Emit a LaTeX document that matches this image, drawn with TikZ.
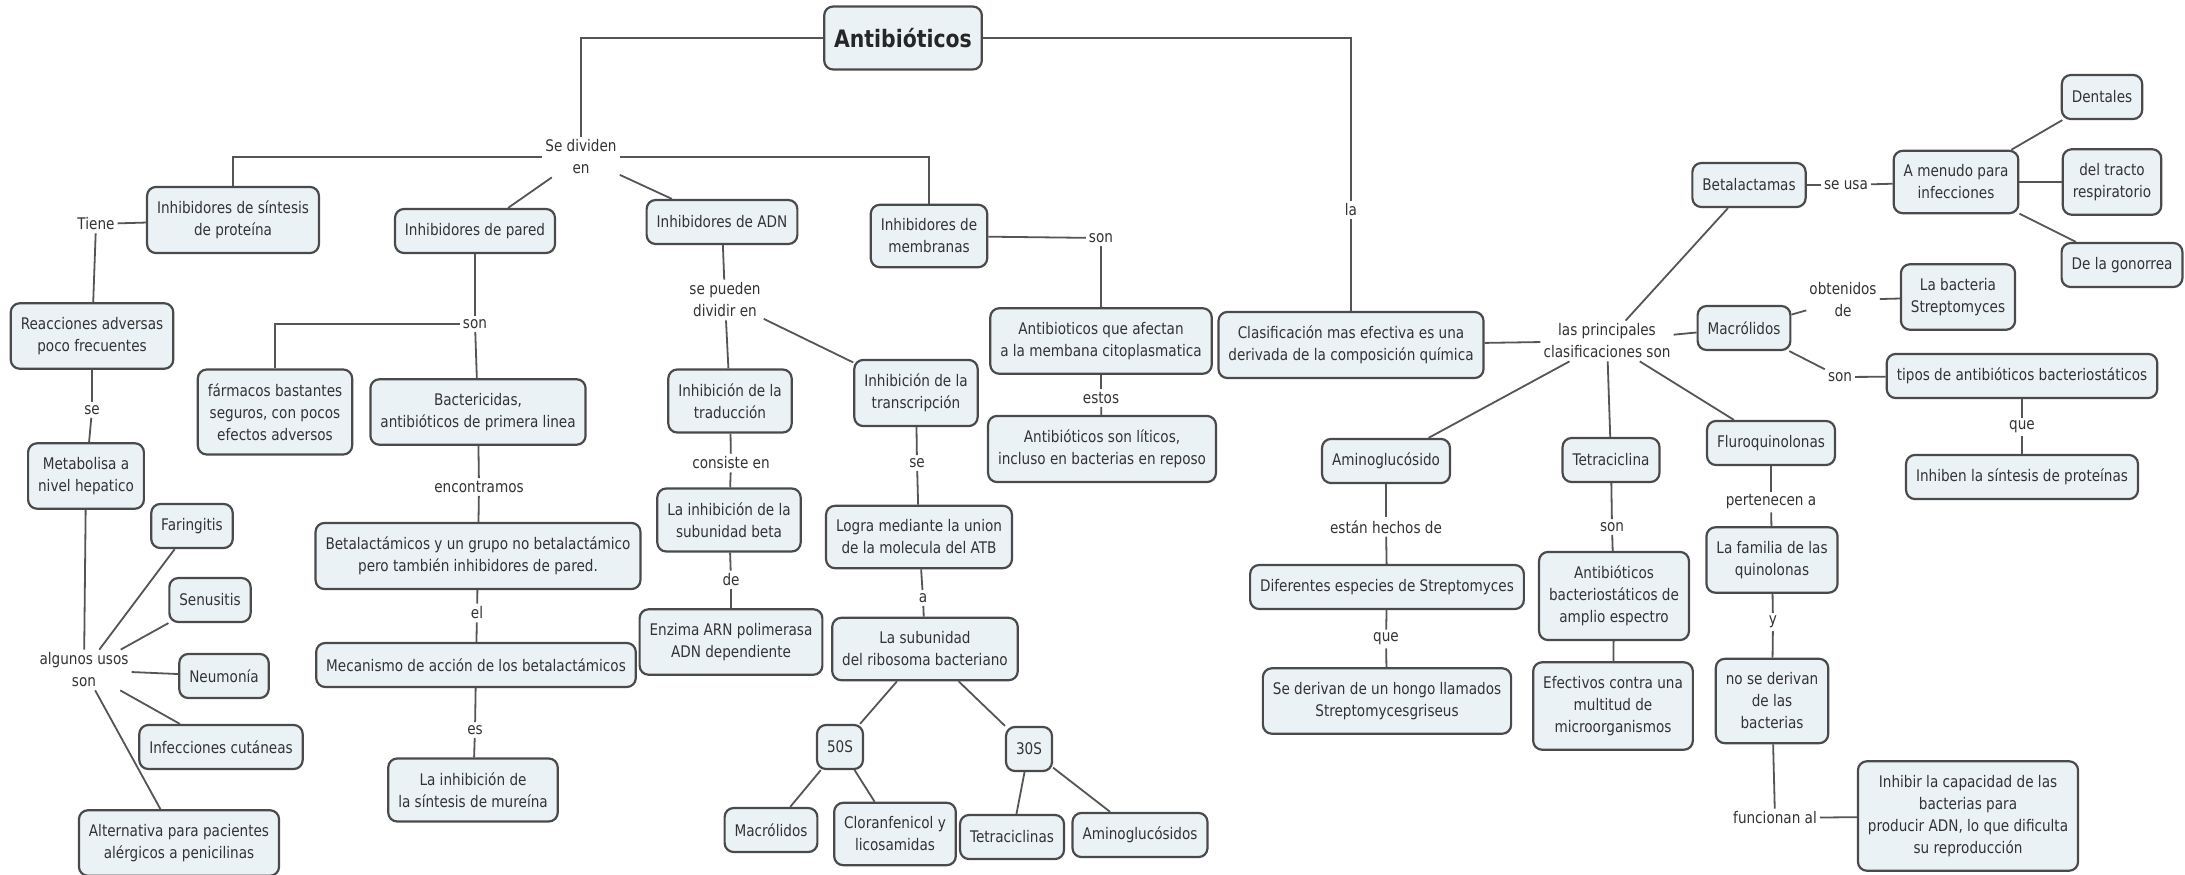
\documentclass[tikz,border=0pt]{standalone}
\usepackage{fontspec}
\setmainfont{DejaVu Sans}[FakeStretch=0.85]
\usetikzlibrary{positioning}
\definecolor{boxfill}{HTML}{EBF2F6}
\definecolor{boxline}{HTML}{4A4A4A}
\definecolor{conline}{HTML}{555555}
\definecolor{txtgray}{HTML}{333333}

\begin{document}
\begin{tikzpicture}[x=1pt,y=-1pt,
			concept/.style={draw=boxline,line width=2.2pt,fill=boxfill,rounded corners=9pt,align=center,inner xsep=10pt,inner ysep=14pt,minimum height=44pt,font=\fontsize{16}{22}\selectfont,text=txtgray},
			lbl/.style={align=center,inner sep=3pt,font=\fontsize{16}{22}\selectfont,text=txtgray},
			con/.style={draw=conline,line width=1.8pt}
			]
			\fill[white] (0,0) rectangle (2185,875);
			\useasboundingbox (0,0) rectangle (2185,875);
			\node[concept,font=\fontsize{24}{28}\selectfont\bfseries,text=black!85,minimum height=63pt] (antib) at (903,38) {Antibióticos};
			% left half
			\node[lbl] (ldividen) at (581,157) {Se dividen\\en};
			\node[concept] (sintesis) at (233,220) {Inhibidores de síntesis\\de proteína};
			\node[concept] (pared) at (475,231) {Inhibidores de pared};
			\node[concept] (adn) at (722,222) {Inhibidores de ADN};
			\node[concept] (membranas) at (929,236) {Inhibidores de\\membranas};
			\node[lbl] (ltiene) at (96,224) {Tiene};
			\node[concept] (reacciones) at (92,336) {Reacciones adversas\\poco frecuentes};
			\node[lbl] (lse1) at (92,410) {se};
			\node[concept] (metab) at (86,476) {Metabolisa a\\nivel hepatico};
			\node[lbl] (lusos) at (84,670) {algunos usos\\son};
			\node[concept] (faring) at (192,526) {Faringitis};
			\node[concept] (senus) at (210,600) {Senusitis};
			\node[concept] (neumo) at (224,676) {Neumonía};
			\node[concept] (cutan) at (221,747) {Infecciones cutáneas};
			\node[concept] (altern) at (179,843) {Alternativa para pacientes\\alérgicos a penicilinas};
			\node[lbl] (lson1) at (475,324) {son};
			\node[concept] (farmacos) at (275,412) {fármacos bastantes\\seguros, con pocos\\efectos adversos};
			\node[concept] (bacteric) at (478,412) {Bactericidas,\\antibióticos de primera linea};
			\node[lbl] (lencont) at (479,487) {encontramos};
			\node[concept] (betalact) at (478,556) {Betalactámicos y un grupo no betalactámico\\pero también inhibidores de pared.};
			\node[lbl] (lel) at (477,613) {el};
			\node[concept] (mecan) at (476,665) {Mecanismo de acción de los betalactámicos};
			\node[lbl] (les) at (475,730) {es};
			\node[concept] (mureina) at (473,790) {La inhibición de\\la síntesis de mureína};
			\node[lbl] (lpueden) at (725,300) {se pueden\\dividir en};
			\node[concept] (traduc) at (730,401) {Inhibición de la\\traducción};
			\node[lbl] (lconsiste) at (731,463) {consiste en};
			\node[concept] (subbeta) at (729,520) {La inhibición de la\\subunidad beta};
			\node[lbl] (lde) at (731,580) {de};
			\node[concept] (enzima) at (731,642) {Enzima ARN polimerasa\\ADN dependiente};
			\node[concept] (transc) at (916,393) {Inhibición de la\\transcripción};
			\node[lbl] (lse2) at (917,463) {se};
			\node[concept] (logra) at (919,537) {Logra mediante la union\\de la molecula del ATB};
			\node[lbl] (la) at (923,598) {a};
			\node[concept] (ribos) at (925,649) {La subunidad\\del ribosoma bacteriano};
			\node[concept] (cin) at (840,747) {50S};
			\node[concept] (tre) at (1029,749) {30S};
			\node[concept] (macro1) at (771,830) {Macrólidos};
			\node[concept] (cloran) at (895,834) {Cloranfenicol y\\licosamidas};
			\node[concept] (tetras) at (1012,837) {Tetraciclinas};
			\node[concept] (aminos) at (1140,835) {Aminoglucósidos};
			\node[lbl] (lson2) at (1101,238) {son};
			\node[concept] (afectan) at (1101,341) {Antibioticos que afectan\\a la membana citoplasmatica};
			\node[lbl] (lestos) at (1101,398) {estos};
			\node[concept] (liticos) at (1102,449) {Antibióticos son líticos,\\incluso en bacterias en reposo};
			% right half
			\node[lbl] (lla) at (1351,210) {la};
			\node[concept] (clasif) at (1351,345) {Clasificación mas efectiva es una\\derivada de la composición química};
			\node[lbl] (lprinc) at (1607,341) {las principales\\clasificaciones son};
			\node[concept] (aminog) at (1386,461) {Aminoglucósido};
			\node[lbl] (lhechos) at (1386,527) {están hechos de};
			\node[concept] (especies) at (1387,587) {Diferentes especies de Streptomyces};
			\node[lbl] (lque1) at (1386,639) {que};
			\node[concept] (hongo) at (1387,701) {Se derivan de un hongo llamados\\Streptomycesgriseus};
			\node[concept] (tetra) at (1611,460) {Tetraciclina};
			\node[lbl] (lson3) at (1612,527) {son};
			\node[concept] (amplio) at (1614,596) {Antibióticos\\bacteriostáticos de\\amplio espectro};
			\node[concept] (efectivos) at (1613,706) {Efectivos contra una\\multitud de\\microorganismos};
			\node[concept] (fluro) at (1771,443) {Fluroquinolonas};
			\node[lbl] (lpert) at (1771,502) {pertenecen a};
			\node[concept] (familia) at (1772,560) {La familia de las\\quinolonas};
			\node[lbl] (ly) at (1773,622) {y};
			\node[concept] (noderiv) at (1772,701) {no se derivan\\de las\\bacterias};
			\node[lbl] (lfunc) at (1775,818) {funcionan al};
			\node[concept] (inhibir) at (1968,816) {Inhibir la capacidad de las\\bacterias para\\producir ADN, lo que dificulta\\su reproducción};
			\node[concept] (betalactamas) at (1749,185) {Betalactamas};
			\node[lbl] (lseusa) at (1846,185) {se usa};
			\node[concept] (amenudo) at (1956,182) {A menudo para\\infecciones};
			\node[concept] (dentales) at (2102,97) {Dentales};
			\node[concept] (tracto) at (2112,182) {del tracto\\respiratorio};
			\node[concept] (gonorrea) at (2122,265) {De la gonorrea};
			\node[concept] (macro2) at (1744,328) {Macrólidos};
			\node[lbl] (lobten) at (1843,300) {obtenidos\\de};
			\node[concept] (bacteria) at (1958,297) {La bacteria\\Streptomyces};
			\node[lbl] (lson4) at (1840,377) {son};
			\node[concept] (tipos) at (2022,376) {tipos de antibióticos bacteriostáticos};
			\node[lbl] (lque2) at (2022,427) {que};
			\node[concept] (inhiben) at (2022,477) {Inhiben la síntesis de proteínas};
			% connectors
			\draw[con] (antib) -| (ldividen);
			\draw[con] (antib) -| (lla);
			\draw[con] (lla) -- (clasif);
			\draw[con] (ldividen) -| (sintesis);
			\draw[con] (ldividen) -- (pared);
			\draw[con] (ldividen) -- (adn);
			\draw[con] (ldividen) -| (membranas);
			\draw[con] (sintesis) -- (ltiene);
			\draw[con] (ltiene) -- (reacciones);
			\draw[con] (reacciones) -- (lse1);
			\draw[con] (lse1) -- (metab);
			\draw[con] (metab) -- (lusos);
			\draw[con] (lusos) -- (faring);
			\draw[con] (lusos) -- (senus);
			\draw[con] (lusos) -- (neumo);
			\draw[con] (lusos) -- (cutan);
			\draw[con] (lusos) -- (altern);
			\draw[con] (pared) -- (lson1);
			\draw[con] (lson1) -| (farmacos);
			\draw[con] (lson1) -- (bacteric);
			\draw[con] (bacteric) -- (lencont);
			\draw[con] (lencont) -- (betalact);
			\draw[con] (betalact) -- (lel);
			\draw[con] (lel) -- (mecan);
			\draw[con] (mecan) -- (les);
			\draw[con] (les) -- (mureina);
			\draw[con] (adn) -- (lpueden);
			\draw[con] (lpueden) -- (traduc);
			\draw[con] (lpueden) -- (transc);
			\draw[con] (traduc) -- (lconsiste);
			\draw[con] (lconsiste) -- (subbeta);
			\draw[con] (subbeta) -- (lde);
			\draw[con] (lde) -- (enzima);
			\draw[con] (transc) -- (lse2);
			\draw[con] (lse2) -- (logra);
			\draw[con] (logra) -- (la);
			\draw[con] (la) -- (ribos);
			\draw[con] (ribos) -- (cin);
			\draw[con] (ribos) -- (tre);
			\draw[con] (cin) -- (macro1);
			\draw[con] (cin) -- (cloran);
			\draw[con] (tre) -- (tetras);
			\draw[con] (tre) -- (aminos);
			\draw[con] (membranas) -- (lson2);
			\draw[con] (lson2) -- (afectan);
			\draw[con] (afectan) -- (lestos);
			\draw[con] (lestos) -- (liticos);
			\draw[con] (clasif) -- (lprinc);
			\draw[con] (lprinc) -- (betalactamas);
			\draw[con] (lprinc) -- (macro2);
			\draw[con] (lprinc) -- (fluro);
			\draw[con] (lprinc) -- (tetra);
			\draw[con] (lprinc) -- (aminog);
			\draw[con] (aminog) -- (lhechos);
			\draw[con] (lhechos) -- (especies);
			\draw[con] (especies) -- (lque1);
			\draw[con] (lque1) -- (hongo);
			\draw[con] (tetra) -- (lson3);
			\draw[con] (lson3) -- (amplio);
			\draw[con] (amplio) -- (efectivos);
			\draw[con] (fluro) -- (lpert);
			\draw[con] (lpert) -- (familia);
			\draw[con] (familia) -- (ly);
			\draw[con] (ly) -- (noderiv);
			\draw[con] (noderiv) -- (lfunc);
			\draw[con] (lfunc) -- (inhibir);
			\draw[con] (betalactamas) -- (lseusa);
			\draw[con] (lseusa) -- (amenudo);
			\draw[con] (amenudo) -- (dentales);
			\draw[con] (amenudo) -- (tracto);
			\draw[con] (amenudo) -- (gonorrea);
			\draw[con] (macro2) -- (lobten);
			\draw[con] (lobten) -- (bacteria);
			\draw[con] (macro2) -- (lson4);
			\draw[con] (lson4) -- (tipos);
			\draw[con] (tipos) -- (lque2);
			\draw[con] (lque2) -- (inhiben);
		\end{tikzpicture}
\end{document}
